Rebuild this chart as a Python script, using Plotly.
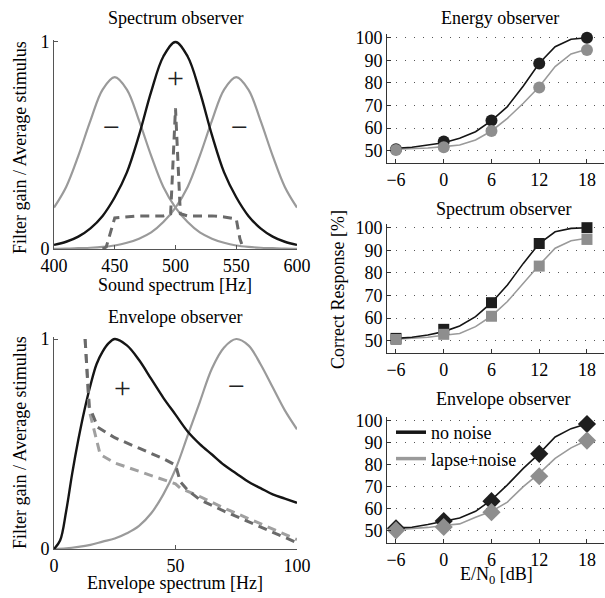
import plotly.graph_objects as go

W, H = 605, 598

# ---------------- data ----------------
# Spectrum observer (filters + average stimulus)
spec_freq = [400, 410, 420, 430, 440, 450, 460, 470, 480, 490, 500,
             510, 520, 530, 540, 550, 560, 570, 580, 590, 600]
spec_plus = [0.02, 0.035, 0.06, 0.10, 0.16, 0.25, 0.37, 0.55, 0.76, 0.93, 1.0,
             0.93, 0.76, 0.55, 0.37, 0.25, 0.16, 0.10, 0.06, 0.035, 0.02]
spec_minus_low = [0.20, 0.30, 0.45, 0.62, 0.77, 0.83, 0.77, 0.62, 0.45, 0.30, 0.20,
                  0.13, 0.08, 0.05, 0.03, 0.017, 0.01, 0.006, 0.004, 0.002, 0.001]
spec_minus_high = [0.001, 0.002, 0.004, 0.006, 0.01, 0.017, 0.03, 0.05, 0.08, 0.13, 0.20,
                   0.30, 0.45, 0.62, 0.77, 0.83, 0.77, 0.62, 0.45, 0.30, 0.20]
spec_stim_freq = [440, 443, 450, 460, 470, 480, 490, 496, 500, 504, 510, 520, 530, 540, 550, 553, 556]
spec_stim = [0.0, 0.01, 0.15, 0.155, 0.16, 0.16, 0.16, 0.17, 0.68, 0.17, 0.16, 0.16, 0.16, 0.155, 0.145, 0.05, 0.0]

# Envelope observer
env_plus_freq = [0, 2.5, 5, 7.5, 10, 12.5, 15, 17.5, 20, 22.5, 25,
                 30, 35, 40, 45, 50, 55, 60, 65, 70, 75, 80, 85, 90, 95, 100]
env_plus = [0, 0.04, 0.18, 0.36, 0.52, 0.66, 0.78, 0.88, 0.94, 0.98, 1.0,
            0.97, 0.9, 0.81, 0.72, 0.64, 0.56, 0.5, 0.45, 0.4, 0.36, 0.32, 0.29, 0.26, 0.24, 0.22]
env_minus_freq = [0, 5, 10, 15, 20, 25, 30, 35, 40, 45, 50, 55, 60, 65, 70, 75, 80, 85, 90, 95, 100]
env_minus = [0, 0.003, 0.01, 0.02, 0.035, 0.05, 0.075, 0.11, 0.17, 0.26, 0.38, 0.54,
             0.70, 0.86, 0.96, 1.0, 0.97, 0.88, 0.77, 0.66, 0.57]
env_stim_a_freq = [12.8, 14.5, 18, 25, 35, 45, 50, 52, 55, 60, 70, 80, 90, 100]
env_stim_a = [1.0, 0.68, 0.58, 0.53, 0.48, 0.43, 0.40, 0.32, 0.28, 0.235, 0.18, 0.13, 0.08, 0.03]
env_stim_b_freq = [12.8, 14.5, 19, 25, 35, 45, 50, 52, 60, 70, 80, 90, 100]
env_stim_b = [1.0, 0.66, 0.45, 0.41, 0.37, 0.33, 0.31, 0.29, 0.25, 0.195, 0.145, 0.095, 0.045]

# Psychometric results
snr = [-6, 0, 6, 12, 18]
snr_labels = ["\u22126", "0", "6", "12", "18"]
fit_snr = [-6, -4, -2, 0, 2, 4, 6, 8, 10, 12, 14, 16, 18]

energy_nonoise = [50.6, 54.0, 63.3, 88.6, 100.0]
energy_lapse = [50.3, 51.5, 58.7, 78.0, 94.5]
energy_fit_nonoise = [51.06, 51.5, 52.5, 53.5, 55.5, 58.4, 63.3, 69.5, 78.6, 88.7, 96.0, 99.3, 100.0]
energy_fit_lapse = [50.6, 50.8, 51.2, 51.8, 52.5, 54.7, 58.7, 64.3, 71.0, 78.3, 87.2, 92.8, 94.9]

spectrum_nonoise = [51.0, 55.0, 66.8, 93.0, 100.0]
spectrum_lapse = [50.5, 52.8, 60.8, 83.0, 94.8]
spectrum_fit_nonoise = [51.0, 51.5, 52.5, 54.0, 56.5, 60.6, 66.8, 74.6, 84.2, 93.0, 98.2, 99.7, 100.0]
spectrum_fit_lapse = [50.6, 51.0, 51.5, 52.4, 53.2, 56.2, 60.9, 67.3, 75.4, 83.5, 90.9, 94.2, 95.3]

envelope_nonoise = [51.2, 54.5, 63.5, 85.0, 98.5]
envelope_lapse = [50.3, 51.8, 58.5, 74.8, 91.0]
envelope_fit_nonoise = [51.4, 51.7, 52.9, 54.4, 55.9, 58.9, 64.1, 70.9, 78.4, 85.1, 92.6, 96.4, 98.6]
envelope_fit_lapse = [50.6, 51.0, 51.6, 52.5, 53.2, 56.2, 58.9, 63.1, 70.1, 76.1, 82.9, 87.7, 91.1]

# ---------------- styling ----------------
FONT = "Liberation Serif"
BLACK = "#151515"
GRAY = "#9a9a9a"
DASH_DARK = "#6a6a6a"
DASH_LIGHT = "#a0a0a0"
MK_BLACK = "#1e1e1e"
MK_GRAY = "#8e8e8e"

def pxx(x):
    return x / W

def pyy(y):
    return 1 - y / H

fig = go.Figure()

# left top
fig.add_trace(go.Scatter(x=spec_freq, y=spec_minus_low, mode="lines", line=dict(color=GRAY, width=2.2, shape="spline"), xaxis="x", yaxis="y", showlegend=False))
fig.add_trace(go.Scatter(x=spec_freq, y=spec_minus_high, mode="lines", line=dict(color=GRAY, width=2.2, shape="spline"), xaxis="x", yaxis="y", showlegend=False))
fig.add_trace(go.Scatter(x=spec_freq, y=spec_plus, mode="lines", line=dict(color=BLACK, width=2.4, shape="spline"), xaxis="x", yaxis="y", showlegend=False))
fig.add_trace(go.Scatter(x=spec_stim_freq, y=spec_stim, mode="lines", line=dict(color=DASH_DARK, width=3, dash="9px,6px"), xaxis="x", yaxis="y", showlegend=False))

# left bottom
fig.add_trace(go.Scatter(x=env_minus_freq, y=env_minus, mode="lines", line=dict(color=GRAY, width=2.2, shape="spline"), xaxis="x2", yaxis="y2", showlegend=False))
fig.add_trace(go.Scatter(x=env_plus_freq, y=env_plus, mode="lines", line=dict(color=BLACK, width=2.4, shape="spline"), xaxis="x2", yaxis="y2", showlegend=False))
fig.add_trace(go.Scatter(x=env_stim_b_freq, y=env_stim_b, mode="lines", line=dict(color=DASH_LIGHT, width=3, dash="9px,6px"), xaxis="x2", yaxis="y2", showlegend=False))
fig.add_trace(go.Scatter(x=env_stim_a_freq, y=env_stim_a, mode="lines", line=dict(color=DASH_DARK, width=3, dash="9px,6px"), xaxis="x2", yaxis="y2", showlegend=False))

# right panels
panels = [
    ("x3", "y3", energy_fit_nonoise, energy_fit_lapse, energy_nonoise, energy_lapse, "circle", 12),
    ("x4", "y4", spectrum_fit_nonoise, spectrum_fit_lapse, spectrum_nonoise, spectrum_lapse, "square", 11),
    ("x5", "y5", envelope_fit_nonoise, envelope_fit_lapse, envelope_nonoise, envelope_lapse, "diamond", 14),
]
for xa, ya, fn, fl, mn, ml, sym, ms in panels:
    fig.add_trace(go.Scatter(x=fit_snr, y=fl, mode="lines", line=dict(color=GRAY, width=1.6), xaxis=xa, yaxis=ya, showlegend=False))
    fig.add_trace(go.Scatter(x=fit_snr, y=fn, mode="lines", line=dict(color=BLACK, width=1.6), xaxis=xa, yaxis=ya, showlegend=False))
    fig.add_trace(go.Scatter(x=snr, y=mn, mode="markers", marker=dict(color=MK_BLACK, size=ms, symbol=sym, line=dict(width=0)), xaxis=xa, yaxis=ya, showlegend=False, cliponaxis=False))
    fig.add_trace(go.Scatter(x=snr, y=ml, mode="markers", marker=dict(color=MK_GRAY, size=ms, symbol=sym, line=dict(width=0)), xaxis=xa, yaxis=ya, showlegend=False, cliponaxis=False))

# legend entries
fig.add_trace(go.Scatter(x=[None], y=[None], mode="lines", line=dict(color=BLACK, width=3.5), name="no noise", xaxis="x5", yaxis="y5"))
fig.add_trace(go.Scatter(x=[None], y=[None], mode="lines", line=dict(color=GRAY, width=3.5), name="lapse+noise", xaxis="x5", yaxis="y5"))

tickfont = dict(family=FONT, size=18, color="black")
left_common = dict(showline=True, linecolor="#555", linewidth=1, ticks="inside", ticklen=4,
                   tickcolor="#555", showgrid=False, zeroline=False, tickfont=tickfont, automargin=False)

LX = [pxx(54), pxx(297)]
fig.update_layout(
    xaxis=dict(domain=LX, range=[400, 600], tickvals=[400, 450, 500, 550, 600], anchor="y", **left_common),
    yaxis=dict(domain=[pyy(249), pyy(39.5)], range=[0, 1.012], tickvals=[0, 1], anchor="x", **left_common),
    xaxis2=dict(domain=LX, range=[0, 100], tickvals=[0, 50, 100], anchor="y2", **left_common),
    yaxis2=dict(domain=[pyy(549), pyy(336.5)], range=[0, 1.012], tickvals=[0, 1], anchor="x2", **left_common),
)

RX = [pxx(387), pxx(604)]
right_x = dict(domain=RX, range=[-7.13, 20.14], tickvals=snr, ticktext=snr_labels, showline=True,
               linecolor="#333", ticks="inside", ticklen=4, tickcolor="#333", showgrid=False,
               zeroline=False, tickfont=tickfont, automargin=False)
right_y = dict(range=[44.4, 101.5], tickvals=[50, 60, 70, 80, 90, 100], showline=True, linecolor="#333",
               ticks="inside", ticklen=4, tickcolor="#333", showgrid=True, gridcolor="#555",
               griddash="1px,8px", gridwidth=1.3, zeroline=False, tickfont=tickfont, automargin=False)
fig.update_layout(
    xaxis3=dict(anchor="y3", **right_x),
    yaxis3=dict(domain=[pyy(163.3), pyy(34.3)], anchor="x3", **right_y),
    xaxis4=dict(anchor="y4", **right_x),
    yaxis4=dict(domain=[pyy(353.3), pyy(224.3)], anchor="x4", **right_y),
    xaxis5=dict(anchor="y5", **right_x),
    yaxis5=dict(domain=[pyy(543.3), pyy(417.4)], anchor="x5", **right_y),
)

ann = []
def text(x, y, s, size=18, angle=0):
    ann.append(dict(x=pxx(x), y=pyy(y), xref="paper", yref="paper", text=s, showarrow=False,
                    font=dict(family=FONT, size=size, color="black"), textangle=angle,
                    xanchor="center", yanchor="middle"))

text(175, 18, "Spectrum observer")
text(175, 317, "Envelope observer")
text(500, 18, "Energy observer")
text(503, 209, "Spectrum observer")
text(503, 399, "Envelope observer")
text(175, 285, "Sound spectrum [Hz]")
text(175, 583, "Envelope spectrum [Hz]")
text(497, 575, "E/N<sub>0</sub> [dB]")
text(20, 148, "Filter gain / Average stimulus", angle=-90)
text(20, 443, "Filter gain / Average stimulus", angle=-90)
text(338, 290, "Correct Response [%]", angle=-90)

# + / - signs in data coordinates
def sign(x, y, s, xa, ya):
    ann.append(dict(x=x, y=y, xref=xa, yref=ya, text=s, showarrow=False,
                    font=dict(family=FONT, size=30, color="#222"), xanchor="center", yanchor="middle"))

sign(500, 0.83, "+", "x", "y")
sign(447.5, 0.59, "\u2212", "x", "y")
sign(552.5, 0.59, "\u2212", "x", "y")
sign(28, 0.77, "+", "x2", "y2")
sign(75, 0.78, "\u2212", "x2", "y2")

fig.update_layout(
    annotations=ann,
    width=W, height=H,
    margin=dict(l=0, r=0, t=0, b=0, autoexpand=False),
    paper_bgcolor="white", plot_bgcolor="white",
    font=dict(family=FONT, size=18, color="black"),
    showlegend=True,
    legend=dict(x=pxx(391), y=pyy(414), xanchor="left", yanchor="top", bgcolor="rgba(0,0,0,0)",
                font=dict(family=FONT, size=18, color="black"), itemwidth=30, tracegroupgap=0),
)

fig.write_html("out.html", config={"displayModeBar": False},
               post_script="document.body.style.margin='0';document.body.style.padding='0';")
